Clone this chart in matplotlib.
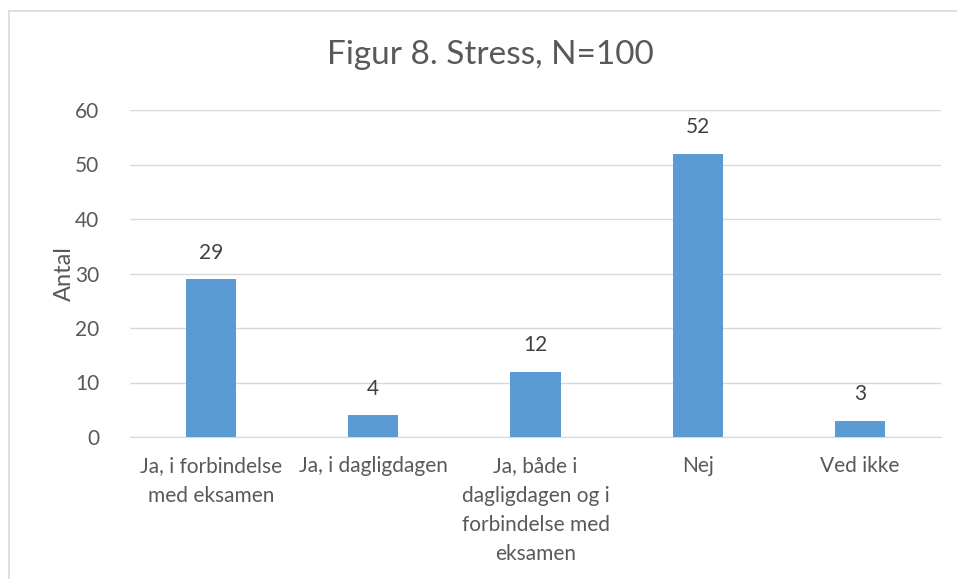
import matplotlib
matplotlib.use("Agg")
import matplotlib.pyplot as plt
from matplotlib.lines import Line2D

categories = ["Ja, i forbindelse\nmed eksamen", "Ja, i dagligdagen",
              "Ja, både i\ndagligdagen og i\nforbindelse med\neksamen", "Nej", "Ved ikke"]
values = [29, 4, 12, 52, 3]
yticks = [0, 10, 20, 30, 40, 50, 60]

plt.rcParams['font.family'] = ['Lato', 'DejaVu Sans']
txt = '#595959'

fig = plt.figure(figsize=(9.57, 5.79), dpi=100)
W, H = 957, 579
ax = fig.add_axes([130 / W, 1 - 437 / H, (941 - 130) / W, (437 - 110) / H])

x = list(range(len(categories)))
ax.bar(x, values, width=0.31, color='#5B9BD5', zorder=3)
for xi, v in zip(x, values):
    ax.text(xi, v + 3, str(v), ha='center', va='bottom', fontsize=15, color='#404040')

ax.set_xlim(-0.5, len(categories) - 0.5)
ax.set_ylim(0, 60)
ax.set_yticks(yticks)
ax.set_yticklabels([str(t) for t in yticks], fontsize=15, color=txt)
ax.set_xticks(x)
ax.set_xticklabels(categories, fontsize=15, color=txt, linespacing=1.58)
ax.tick_params(axis='x', length=0, pad=14)
ax.tick_params(axis='y', length=0, pad=22)
ax.grid(axis='y', color='#D9D9D9', linewidth=1, zorder=0)
for s in ['top', 'right', 'left']:
    ax.spines[s].set_visible(False)
ax.spines['bottom'].set_color('#D9D9D9')
ax.set_ylabel('Antal', fontsize=17, color=txt, labelpad=0)

fig.text(490 / W, 1 - 55 / H, 'Figur 8. Stress, N=100', ha='center', va='center', fontsize=24, color=txt)

# chart border (top and left)
fig.add_artist(Line2D([9 / W, 1], [1 - 11 / H, 1 - 11 / H], transform=fig.transFigure, color='#D9D9D9', lw=1.2))
fig.add_artist(Line2D([9 / W, 9 / W], [0, 1 - 11 / H], transform=fig.transFigure, color='#D9D9D9', lw=1.2))

fig.savefig('out.png', dpi=100, facecolor='white')
